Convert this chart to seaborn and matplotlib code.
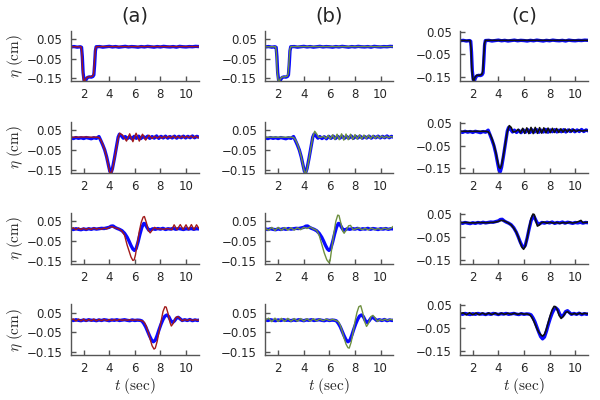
import matplotlib
matplotlib.use('Agg')
import matplotlib.pyplot as plt
import seaborn as sns

# ---------- row 1 : single trough ----------
t_r1_meas = [1.0, 1.25, 1.5, 1.75, 1.84, 1.9, 1.96, 2.04, 2.12, 2.2, 2.3, 2.45, 2.6, 2.72, 2.8, 2.86, 2.92, 2.98,
             3.25, 3.5, 3.75, 4.0, 4.25, 4.5, 4.75, 5.0, 5.25, 5.5, 5.75, 6.0, 6.25, 6.5, 6.75, 7.0,
             7.25, 7.5, 7.75, 8.0, 8.25, 8.5, 8.75, 9.0, 9.25, 9.5, 9.75, 10.0, 10.25, 10.5, 10.75, 11.0]
eta_r1_meas = [0.010, 0.012, 0.009, 0.011, 0.008, -0.040, -0.120, -0.162, -0.168, -0.155, -0.145, -0.142, -0.143, -0.140, -0.132, -0.080, -0.010, 0.011,
               0.012, 0.009, 0.011, 0.013, 0.010, 0.012, 0.009, 0.011, 0.013, 0.010, 0.012, 0.011, 0.009, 0.012, 0.010, 0.013,
               0.011, 0.009, 0.012, 0.010, 0.013, 0.011, 0.010, 0.012, 0.009, 0.013, 0.011, 0.010, 0.012, 0.011, 0.013, 0.012]
t_r1_model = [1.0, 1.8, 1.86, 1.92, 2.0, 2.08, 2.16, 2.3, 2.5, 2.7, 2.78, 2.85, 2.92, 3.0, 4.0, 6.0, 8.0, 11.0]
eta_r1_model = [0.011, 0.011, -0.020, -0.110, -0.160, -0.166, -0.152, -0.142, -0.142, -0.138, -0.125, -0.060, 0.000, 0.012, 0.012, 0.012, 0.012, 0.012]

# ---------- row 2 ----------
t_r2_meas = [1.0, 1.2, 1.4, 1.6, 1.8, 2.0, 2.2, 2.4, 2.6, 2.8, 3.0, 3.2, 3.35, 3.5, 3.65, 3.8, 3.95, 4.05, 4.15, 4.25,
             4.4, 4.55, 4.7, 4.8, 4.95, 5.1, 5.25, 5.42, 5.6, 5.77, 5.95, 6.12, 6.3, 6.47, 6.65, 6.82, 7.0, 7.17,
             7.35, 7.52, 7.7, 7.87, 8.05, 8.22, 8.4, 8.57, 8.75, 8.92, 9.1, 9.27, 9.45, 9.62, 9.8, 9.97, 10.15,
             10.32, 10.5, 10.67, 10.85, 11.0]
eta_r2_meas = [0.011, 0.008, 0.013, 0.009, 0.012, 0.008, 0.013, 0.010, 0.007, 0.012, 0.009, 0.018, -0.003, -0.025, -0.050, -0.085, -0.130, -0.158, -0.165, -0.145,
               -0.095, -0.040, 0.015, 0.030, 0.022, 0.010, 0.018, 0.008, 0.017, 0.007, 0.019, 0.009, 0.020, 0.008, 0.019, 0.010, 0.020, 0.009,
               0.018, 0.010, 0.021, 0.009, 0.019, 0.011, 0.020, 0.010, 0.018, 0.011, 0.020, 0.010, 0.019, 0.012, 0.020, 0.011, 0.019,
               0.012, 0.021, 0.012, 0.019, 0.015]
t_r2_a = [1.0, 1.5, 2.0, 2.5, 3.0, 3.2, 3.35, 3.5, 3.65, 3.8, 3.95, 4.05, 4.15, 4.25, 4.4, 4.55, 4.7, 4.82, 5.05, 5.35,
          5.6, 5.85, 6.1, 6.35, 6.6, 6.85, 7.1, 7.35, 7.55, 7.75, 7.95, 8.12, 8.3, 8.47, 8.65, 8.82, 9.0, 9.17, 9.35,
          9.52, 9.7, 9.87, 10.05, 10.22, 10.4, 10.57, 10.75, 10.92, 11.0]
eta_r2_a = [0.015, 0.015, 0.016, 0.015, 0.015, 0.013, 0.000, -0.022, -0.050, -0.088, -0.135, -0.165, -0.172, -0.150, -0.100, -0.045, 0.010, 0.035, 0.025, -0.005,
            0.032, -0.008, 0.035, -0.005, 0.030, 0.000, 0.025, 0.008, 0.020, 0.010, 0.019, 0.010, 0.020, 0.011, 0.020, 0.011, 0.021, 0.010, 0.020,
            0.011, 0.021, 0.011, 0.020, 0.012, 0.021, 0.011, 0.020, 0.012, 0.015]
t_r2_b = [1.0, 2.0, 3.0, 3.2, 3.35, 3.5, 3.65, 3.8, 3.95, 4.05, 4.15, 4.25, 4.4, 4.55, 4.7, 4.85, 5.0, 5.15, 5.35, 5.55,
          5.72, 5.9, 6.07, 6.25, 6.42, 6.6, 6.77, 6.95, 7.12, 7.3, 7.47, 7.65, 7.82, 8.0, 8.17, 8.35, 8.52, 8.7, 8.87, 9.05,
          9.22, 9.4, 9.57, 9.75, 9.92, 10.1, 10.27, 10.45, 10.62, 10.8, 11.0]
eta_r2_b = [0.015, 0.015, 0.015, 0.013, 0.001, -0.020, -0.048, -0.085, -0.130, -0.160, -0.168, -0.150, -0.100, -0.040, 0.015, 0.045, 0.032, 0.015, 0.014, 0.020,
            0.008, 0.024, 0.006, 0.027, 0.003, 0.030, 0.002, 0.032, 0.000, 0.031, 0.002, 0.030, 0.003, 0.028, 0.005, 0.027, 0.006, 0.026, 0.007, 0.025,
            0.008, 0.024, 0.009, 0.022, 0.010, 0.021, 0.011, 0.020, 0.012, 0.018, 0.015]
t_r2_c = [1.0, 2.0, 3.0, 3.2, 3.35, 3.5, 3.65, 3.8, 3.95, 4.05, 4.15, 4.25, 4.4, 4.55, 4.7, 4.85, 5.0, 5.15, 5.35, 5.55,
          5.72, 5.9, 6.05, 6.22, 6.38, 6.55, 6.72, 6.88, 7.05, 7.22, 7.38, 7.55, 7.72, 7.88, 8.05, 8.22, 8.38, 8.55, 8.72, 8.88,
          9.05, 9.22, 9.38, 9.55, 9.72, 9.88, 10.05, 10.3, 10.55, 10.8, 11.0]
eta_r2_c = [0.013, 0.013, 0.013, 0.011, 0.000, -0.020, -0.046, -0.080, -0.122, -0.145, -0.150, -0.135, -0.090, -0.038, 0.012, 0.038, 0.030, 0.010, 0.012, 0.022,
            0.006, 0.026, 0.004, 0.028, 0.003, 0.030, 0.003, 0.030, 0.004, 0.029, 0.005, 0.028, 0.006, 0.027, 0.007, 0.026, 0.008, 0.025, 0.008, 0.024,
            0.009, 0.023, 0.010, 0.022, 0.011, 0.021, 0.012, 0.018, 0.014, 0.017, 0.016]

# ---------- row 3 ----------
t_r3_meas = [1.0, 1.2, 1.4, 1.6, 1.8, 2.0, 2.2, 2.4, 2.6, 2.8, 3.0, 3.2, 3.4, 3.6, 3.8, 4.0, 4.15, 4.3, 4.45, 4.6,
             4.8, 5.0, 5.2, 5.4, 5.55, 5.7, 5.85, 5.97, 6.1, 6.25, 6.4, 6.55, 6.7, 6.8, 6.95, 7.1, 7.25, 7.4,
             7.6, 7.8, 8.0, 8.2, 8.4, 8.6, 8.8, 9.0, 9.2, 9.4, 9.6, 9.8, 10.0, 10.2, 10.4, 10.6, 10.8, 11.0]
eta_r3_meas = [0.012, 0.009, 0.013, 0.010, 0.008, 0.012, 0.009, 0.013, 0.010, 0.014, 0.011, 0.013, 0.015, 0.014, 0.017, 0.020, 0.026, 0.027, 0.020, 0.015,
               0.010, 0.003, -0.010, -0.030, -0.050, -0.072, -0.090, -0.097, -0.088, -0.055, -0.015, 0.020, 0.040, 0.038, 0.020, 0.005, 0.008, 0.013,
               0.010, 0.014, 0.011, 0.015, 0.009, 0.013, 0.011, 0.015, 0.010, 0.014, 0.012, 0.009, 0.013, 0.011, 0.014, 0.010, 0.013, 0.012]
t_r3_a = [1.0, 1.2, 1.4, 1.6, 1.8, 2.0, 2.2, 2.4, 2.6, 2.8, 3.0, 3.2, 3.4, 3.6, 3.8, 4.0, 4.2, 4.4, 4.6, 4.8,
          5.0, 5.2, 5.4, 5.55, 5.7, 5.85, 5.95, 6.05, 6.2, 6.35, 6.5, 6.65, 6.75, 6.9, 7.05, 7.2, 7.35, 7.55, 7.75,
          8.0, 8.25, 8.5, 8.75, 8.9, 9.07, 9.3, 9.55, 9.78, 10.0, 10.2, 10.42, 10.62, 10.82, 11.0]
eta_r3_a = [0.012, 0.018, 0.008, 0.017, 0.009, 0.016, 0.008, 0.016, 0.009, 0.017, 0.010, 0.016, 0.010, 0.017, 0.012, 0.020, 0.024, 0.018, 0.016, 0.010,
            0.000, -0.020, -0.070, -0.100, -0.130, -0.148, -0.145, -0.120, -0.060, 0.000, 0.045, 0.072, 0.075, 0.045, 0.005, -0.008, 0.005, 0.020, 0.012,
            0.013, 0.010, 0.014, 0.012, 0.008, 0.033, 0.008, 0.034, 0.009, 0.033, 0.008, 0.034, 0.008, 0.033, 0.015]
t_r3_b = [1.0, 1.25, 1.5, 1.75, 2.0, 2.25, 2.5, 2.75, 3.0, 3.25, 3.5, 3.75, 4.0, 4.25, 4.5, 4.75,
          5.0, 5.2, 5.4, 5.6, 5.8, 5.95, 6.05, 6.2, 6.35, 6.5, 6.65, 6.75, 6.9, 7.05, 7.15, 7.3, 7.5, 7.65, 7.85, 8.05,
          8.3, 8.55, 8.8, 9.05, 9.3, 9.55, 9.8, 10.05, 10.3, 10.55, 10.8, 11.0]
eta_r3_b = [0.015, 0.005, 0.020, 0.004, 0.020, 0.005, 0.019, 0.006, 0.018, 0.006, 0.018, 0.008, 0.020, 0.014, 0.022, 0.012,
            0.005, -0.020, -0.065, -0.110, -0.145, -0.158, -0.150, -0.080, -0.010, 0.050, 0.082, 0.080, 0.040, 0.000, -0.010, 0.005, 0.028, 0.030, 0.008, 0.012,
            0.018, 0.008, 0.015, 0.007, 0.016, 0.008, 0.014, 0.009, 0.016, 0.010, 0.015, 0.026]
t_r3_c = [1.0, 1.5, 2.0, 2.5, 3.0, 3.5, 3.8, 4.0, 4.2, 4.4, 4.6, 4.8, 5.0, 5.2, 5.4, 5.55, 5.7, 5.85, 5.97, 6.1,
          6.25, 6.4, 6.55, 6.7, 6.8, 6.95, 7.05, 7.2, 7.35, 7.55, 7.8, 8.05, 8.3, 8.55, 8.8, 9.05, 9.3, 9.55, 9.8,
          10.05, 10.3, 10.45, 10.6, 10.8, 11.0]
eta_r3_c = [0.012, 0.013, 0.011, 0.013, 0.012, 0.013, 0.015, 0.018, 0.022, 0.021, 0.016, 0.010, 0.002, -0.012, -0.030, -0.050, -0.075, -0.097, -0.105, -0.092,
            -0.055, -0.010, 0.030, 0.050, 0.048, 0.015, -0.003, 0.002, 0.012, 0.015, 0.010, 0.014, 0.010, 0.013, 0.009, 0.013, 0.010, 0.014, 0.011,
            0.013, 0.018, 0.022, 0.012, 0.013, 0.014]

# ---------- row 4 ----------
t_r4_meas = [1.0, 1.2, 1.4, 1.6, 1.8, 2.0, 2.2, 2.4, 2.6, 2.8, 3.0, 3.2, 3.4, 3.6, 3.8, 4.0, 4.2, 4.4, 4.6, 4.8,
             5.0, 5.2, 5.4, 5.6, 5.8, 6.0, 6.2, 6.4, 6.55, 6.7, 6.85, 7.0, 7.15, 7.3, 7.45, 7.6, 7.75, 7.9,
             8.05, 8.2, 8.35, 8.5, 8.65, 8.8, 8.95, 9.1, 9.25, 9.4, 9.55, 9.7, 9.9, 10.1, 10.3, 10.5, 10.7, 10.9, 11.0]
eta_r4_meas = [0.013, 0.010, 0.014, 0.011, 0.009, 0.013, 0.010, 0.014, 0.011, 0.012, 0.009, 0.013, 0.010, 0.014, 0.012, 0.009, 0.013, 0.011, 0.014, 0.010,
               0.012, 0.014, 0.011, 0.009, 0.013, 0.010, 0.012, 0.011, 0.008, -0.005, -0.022, -0.045, -0.068, -0.088, -0.098, -0.090, -0.065, -0.035,
               -0.008, 0.015, 0.032, 0.038, 0.030, 0.010, 0.000, 0.008, 0.022, 0.026, 0.018, 0.010, 0.014, 0.010, 0.015, 0.009, 0.013, 0.010, 0.012]
t_r4_a = [1.0, 1.2, 1.4, 1.6, 1.8, 2.0, 2.2, 2.4, 2.6, 2.8, 3.0, 3.2, 3.4, 3.6, 3.8, 4.0, 4.2, 4.4, 4.6, 4.8,
          5.0, 5.2, 5.4, 5.6, 5.8, 6.0, 6.2, 6.4, 6.6, 6.75, 6.9, 7.05, 7.2, 7.35, 7.5, 7.6, 7.75, 7.9, 8.05, 8.2,
          8.35, 8.45, 8.6, 8.75, 8.85, 9.0, 9.2, 9.35, 9.5, 9.7, 9.9, 10.1, 10.3, 10.5, 10.7, 10.9, 11.0]
eta_r4_a = [0.012, 0.018, 0.007, 0.017, 0.008, 0.017, 0.007, 0.016, 0.008, 0.017, 0.008, 0.016, 0.009, 0.016, 0.009, 0.015, 0.010, 0.015, 0.010, 0.015,
            0.011, 0.014, 0.011, 0.014, 0.011, 0.013, 0.012, 0.011, 0.008, 0.000, -0.020, -0.050, -0.085, -0.118, -0.135, -0.130, -0.095, -0.045, 0.005, 0.055,
            0.080, 0.078, 0.045, 0.000, -0.018, -0.005, 0.025, 0.030, 0.022, 0.008, 0.015, 0.010, 0.016, 0.010, 0.015, 0.011, 0.013]
t_r4_b = [1.0, 1.25, 1.5, 1.75, 2.0, 2.25, 2.5, 2.75, 3.0, 3.25, 3.5, 3.75, 4.0, 4.25, 4.5, 4.75, 5.0, 5.25, 5.5, 5.75,
          6.0, 6.25, 6.5, 6.7, 6.85, 7.0, 7.15, 7.3, 7.45, 7.55, 7.7, 7.85, 8.0, 8.15, 8.3, 8.45, 8.6, 8.75, 8.9, 9.05,
          9.25, 9.4, 9.55, 9.75, 9.95, 10.15, 10.35, 10.55, 10.75, 11.0]
eta_r4_b = [0.012, 0.022, 0.004, 0.022, 0.005, 0.021, 0.005, 0.021, 0.006, 0.020, 0.006, 0.020, 0.007, 0.019, 0.007, 0.019, 0.008, 0.018, 0.009, 0.017,
            0.010, 0.016, 0.010, 0.004, -0.015, -0.045, -0.080, -0.110, -0.128, -0.130, -0.100, -0.050, 0.005, 0.050, 0.080, 0.085, 0.050, 0.005, -0.020, -0.005,
            0.030, 0.036, 0.025, 0.005, 0.015, 0.010, 0.017, 0.010, 0.016, 0.012]
t_r4_c = [1.0, 1.25, 1.5, 1.75, 2.0, 2.25, 2.5, 2.75, 3.0, 3.25, 3.5, 3.75, 4.0, 4.25, 4.5, 4.75, 5.0, 5.25, 5.5, 5.75,
          6.0, 6.25, 6.45, 6.6, 6.75, 6.9, 7.05, 7.2, 7.35, 7.45, 7.6, 7.75, 7.9, 8.05, 8.2, 8.35, 8.45, 8.6, 8.75, 8.9,
          9.05, 9.25, 9.4, 9.55, 9.75, 9.95, 10.15, 10.35, 10.55, 10.75, 11.0]
eta_r4_c = [0.012, 0.017, 0.008, 0.017, 0.008, 0.016, 0.008, 0.016, 0.009, 0.016, 0.009, 0.016, 0.009, 0.015, 0.010, 0.015, 0.010, 0.015, 0.010, 0.014,
            0.011, 0.012, 0.008, -0.002, -0.018, -0.038, -0.058, -0.072, -0.082, -0.086, -0.078, -0.055, -0.025, 0.005, 0.030, 0.045, 0.044, 0.030, 0.005, -0.008,
            0.000, 0.018, 0.022, 0.015, 0.010, 0.014, 0.010, 0.016, 0.011, 0.015, 0.012]

panel_titles = ['(a)', '(b)', '(c)']
model_colors = ['#a11a1a', '#6e9040', '#111111']
model_widths = [1.0, 1.0, 1.2]
meas_color = '#0a0aff'
x_ticks = [2, 4, 6, 8, 10]
y_ticks = [0.05, -0.05, -0.15]
ylims = [(-0.165, 0.092), (-0.165, 0.092), (-0.169, 0.054)]

measured = [(t_r1_meas, eta_r1_meas), (t_r2_meas, eta_r2_meas),
            (t_r3_meas, eta_r3_meas), (t_r4_meas, eta_r4_meas)]
models = [
    [(t_r1_model, eta_r1_model), (t_r1_model, eta_r1_model), (t_r1_model, eta_r1_model)],
    [(t_r2_a, eta_r2_a), (t_r2_b, eta_r2_b), (t_r2_c, eta_r2_c)],
    [(t_r3_a, eta_r3_a), (t_r3_b, eta_r3_b), (t_r3_c, eta_r3_c)],
    [(t_r4_a, eta_r4_a), (t_r4_b, eta_r4_b), (t_r4_c, eta_r4_c)],
]

sns.set_style('ticks')
plt.rcParams['font.family'] = ['DejaVu Sans']
plt.rcParams['mathtext.fontset'] = 'cm'

fig, axes = plt.subplots(4, 3, figsize=(6, 4), dpi=100)
plt.subplots_adjust(left=0.118, right=0.98, top=0.923, bottom=0.1125, wspace=0.52, hspace=0.8)

for i in range(4):
    for j in range(3):
        ax = axes[i, j]
        tm, em = measured[i]
        sns.lineplot(x=tm, y=em, ax=ax, color=meas_color, linewidth=2.4, estimator=None, sort=False)
        tp, ep = models[i][j]
        sns.lineplot(x=tp, y=ep, ax=ax, color=model_colors[j], linewidth=model_widths[j], estimator=None, sort=False)
        ax.set_xlim(1, 11)
        ax.set_ylim(*ylims[j])
        ax.set_xticks(x_ticks)
        ax.set_yticks(y_ticks)
        ax.tick_params(direction='in', length=3.5, width=1, color='#555555', labelsize=8.5, pad=5)
        ax.tick_params(axis='y', pad=6)
        for s in ['left', 'bottom']:
            ax.spines[s].set_color('#555555')
            ax.spines[s].set_linewidth(1.0)
        sns.despine(ax=ax)
        ax.set_xlabel('')
        ax.set_ylabel('')
        if j == 0:
            ax.set_ylabel(r'$\eta\ (\mathrm{cm})$', fontsize=11, labelpad=1)
        if i == 0:
            ax.set_title(panel_titles[j], fontsize=14, pad=7)
        if i == 3:
            ax.set_xlabel(r'$t\ (\mathrm{sec})$', fontsize=11, labelpad=1)

fig.savefig('out.png', dpi=100)
